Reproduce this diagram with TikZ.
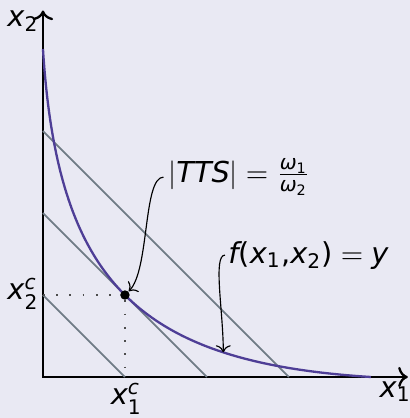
\documentclass[tikz,border=0pt]{standalone}
\usepackage{amsmath}
\usepackage{fontspec}
\setmainfont{DejaVu Sans}
\usetikzlibrary{arrows.meta,positioning}
\definecolor{bgcol}{RGB}{233,233,243}
\definecolor{isocol}{RGB}{78,62,150}
\definecolor{costcol}{RGB}{112,124,134}
\newcommand{\iv}[1]{\textit{#1}}

\begin{document}
\begin{tikzpicture}[
  axislabel/.style={inner sep=0pt,anchor=base west},
  isocost/.style={costcol,semithick},
  note/.style={->,black},
  dotnode/.style={circle,fill=black,inner sep=0pt,minimum size=0.115cm}]
% background
\fill[bgcol] (-0.524,-0.5) rectangle (4.476,4.598);
\useasboundingbox (-0.524,-0.5) rectangle (4.476,4.598);
% axes
\draw[thick,<->] (0,4.47) |- (4.45,0);
\node[axislabel] (ax2) at (-0.44,4.27) {$\iv{x}_{\text{2}}$};
\node[axislabel] (ax1) at (4.10,-0.244) {$\iv{x}_{\text{1}}$};
% isocost lines
\foreach \c in {1,2,3}
  \draw[isocost] (0,\c) -- (\c,0);
% isoquant
\draw[isocol,thick] (0,4) .. controls (0.18,1.153) and (1.153,0.18) .. (4,0)
  coordinate[pos=0.75] (touch);
% optimum
\node[dotnode] (opt) at (1,1) {};
\draw[black!70,loosely dotted,semithick] (0,1) -- (opt) -- (1,0);
\node[axislabel] (x2c) at (-0.44,0.94) {$\iv{x}^{\iv{c}}_{\text{2}}$};
\node[axislabel] (x1c) at (0.82,-0.34) {$\iv{x}^{\iv{c}}_{\text{1}}$};
% annotations
\node[inner sep=1.5pt,anchor=base west] (tts) at (1.47,2.378)
  {$|\iv{TTS}| = \frac{\iv{ω}_{\text{1}}}{\iv{ω}_{\text{2}}}$};
\node[inner sep=1pt,anchor=base west] (fval) at (2.22,1.39)
  {$\iv{f}\text{(}\iv{x}_{\text{1}}\text{,}\iv{x}_{\text{2}}\text{)} = \iv{y}$};
\draw[note] (tts.west) .. controls +(-0.25,0) and +(0.3,0.3) .. (opt);
\draw[note] (fval.west) .. controls +(-0.15,0) and +(0,0.5) .. (touch);
\end{tikzpicture}
\end{document}
